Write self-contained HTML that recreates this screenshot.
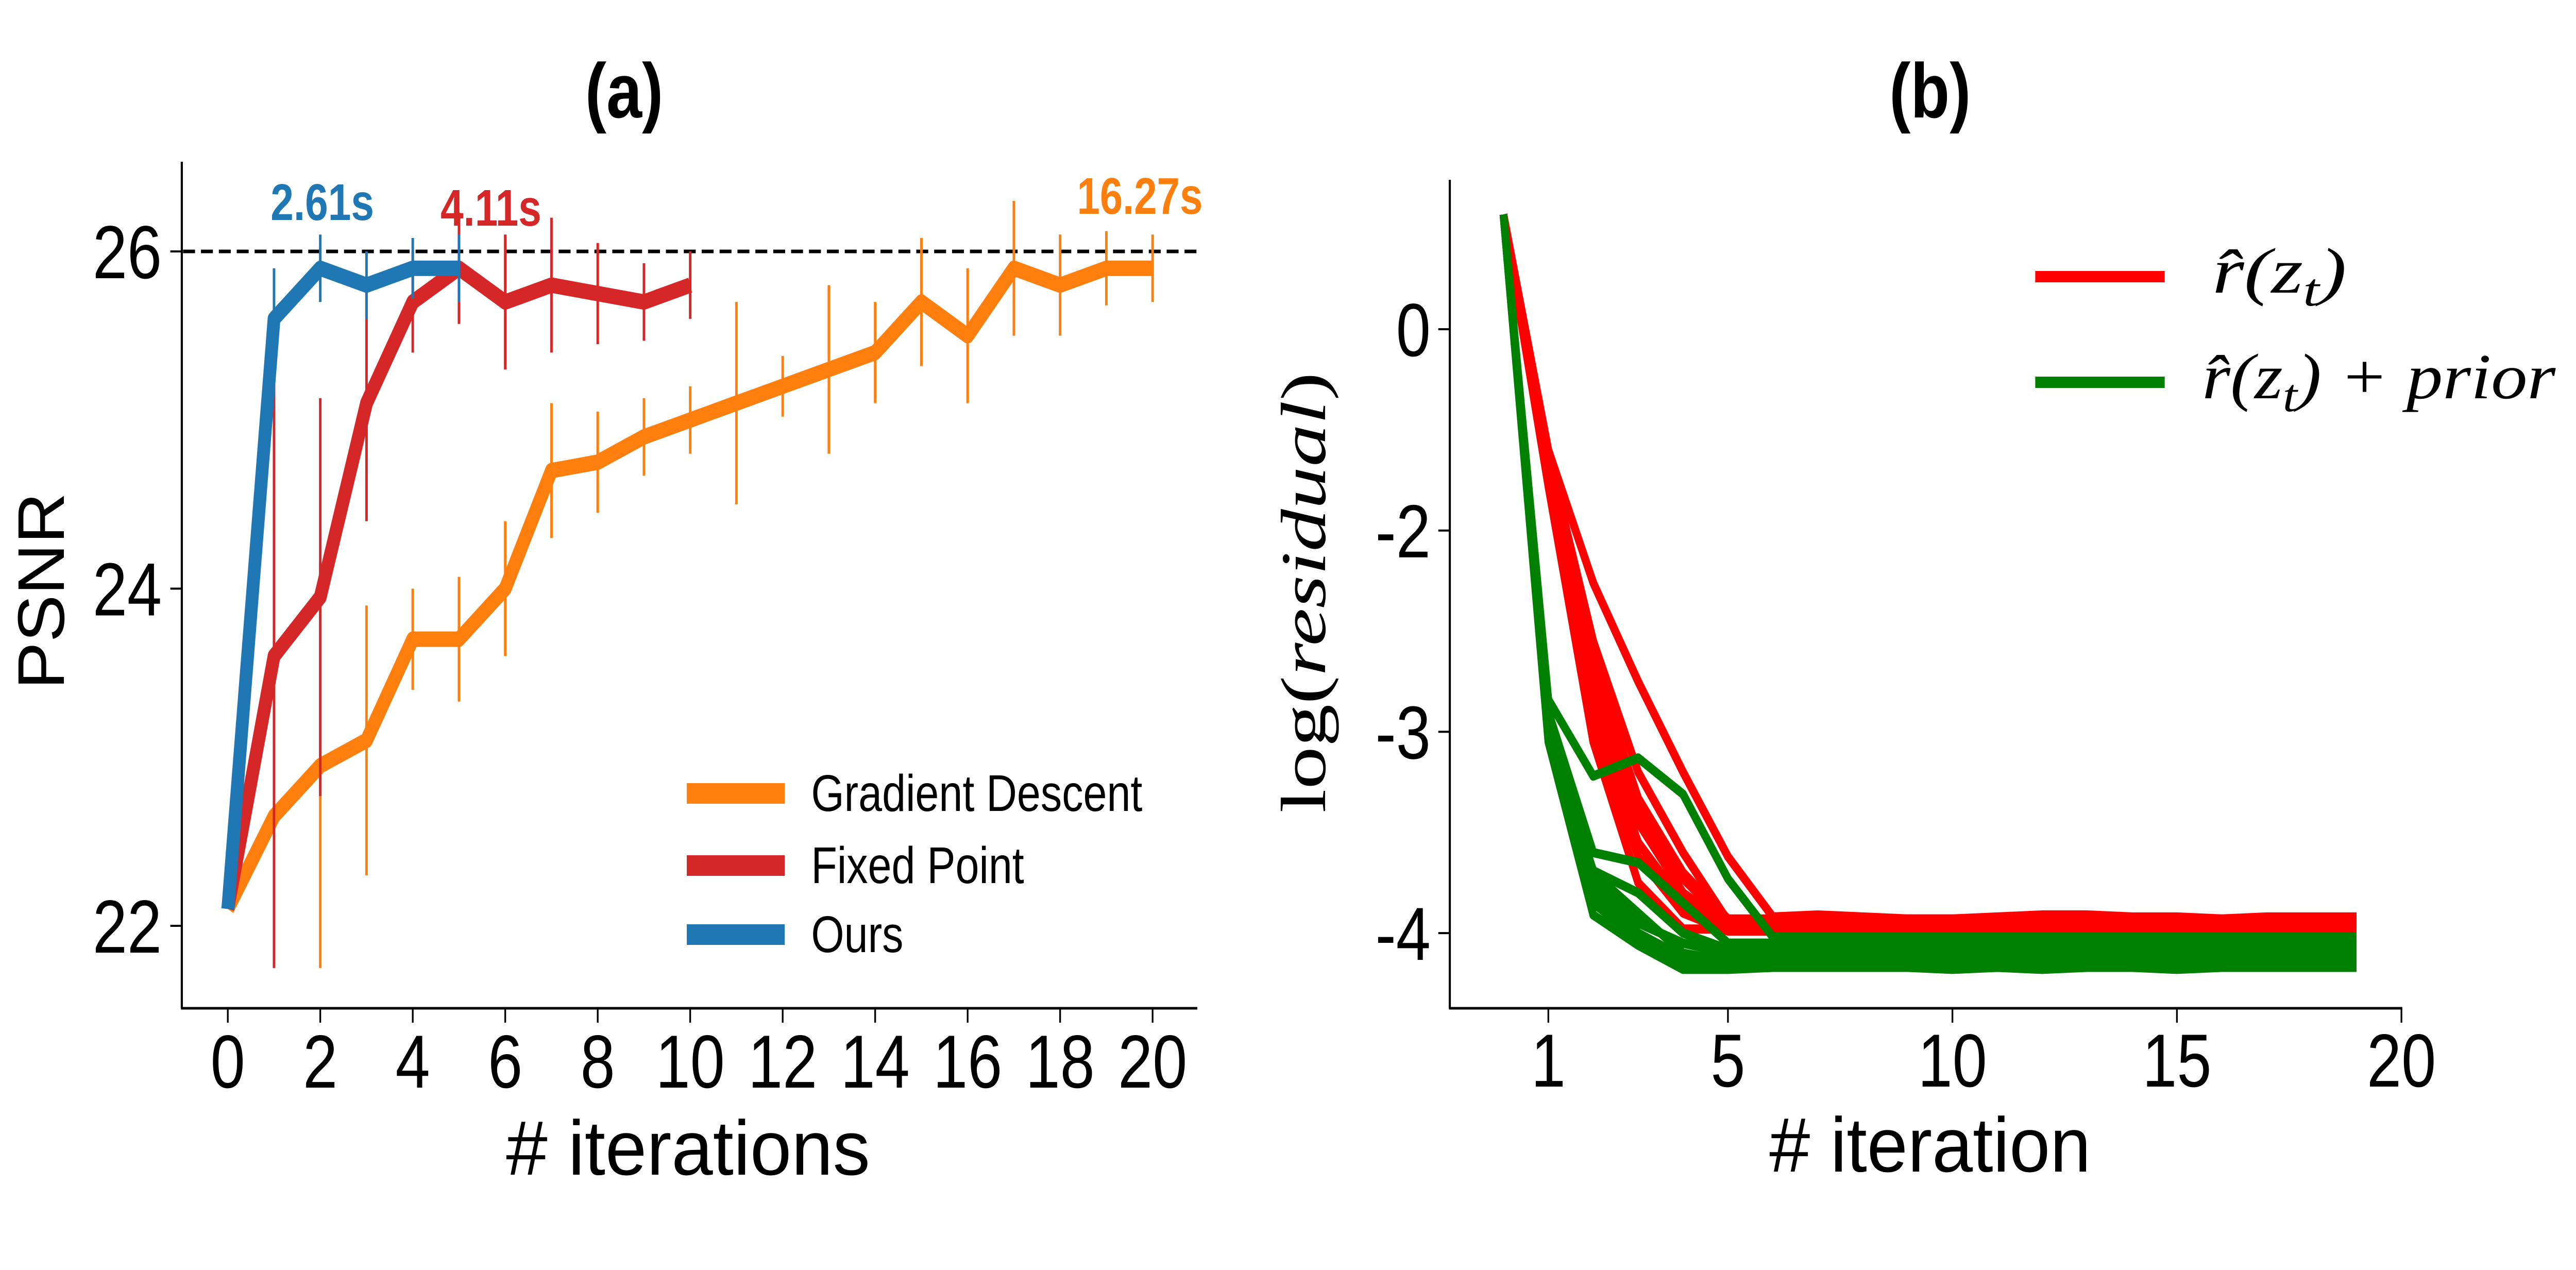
<!DOCTYPE html>
<html><head><meta charset="utf-8"><style>
html,body{margin:0;padding:0;background:#fff;width:100vw;height:100vh;overflow:hidden}
svg{display:block;position:absolute;left:0;top:0;width:100vw;height:100vh}
text{font-family:"Liberation Sans",sans-serif}
</style></head><body>
<svg id="fig" viewBox="0 0 6050 2465" preserveAspectRatio="none" overflow="hidden" xmlns="http://www.w3.org/2000/svg">
<rect width="6050" height="2465" fill="#fff"/>
<text x="1466" y="228" font-size="150" font-weight="bold" text-anchor="middle">(a)</text>
<text x="4533" y="228" font-size="150" font-weight="bold" text-anchor="middle">(b)</text>
<g id="chartA"></g>
<g id="chartB"></g>
<text transform="translate(3112,1150) rotate(-90)" text-anchor="middle" font-size="150" textLength="855" lengthAdjust="spacingAndGlyphs" style="font-family:'Liberation Serif',serif">log(<tspan font-style="italic">residual</tspan>)</text>
<g>
<line x1="4780" y1="537" x2="5084" y2="537" stroke="#ff0000" stroke-width="22"/>
<text x="5196" y="568" font-size="125" textLength="315" lengthAdjust="spacingAndGlyphs" style="font-family:'Liberation Serif',serif" font-style="italic">r̂(z<tspan font-size="90" dy="25">t</tspan><tspan dy="-25">)</tspan></text>
</g>
<g>
<line x1="4780" y1="742" x2="5084" y2="742" stroke="#008000" stroke-width="22"/>
<text x="5172" y="773" font-size="125" textLength="830" lengthAdjust="spacingAndGlyphs" style="font-family:'Liberation Serif',serif" font-style="italic">r̂(z<tspan font-size="90" dy="25">t</tspan><tspan dy="-25">) + prior</tspan></text>
</g>
</svg>
<script>
// ---------- Chart A data ----------
const aTicksX = [0,2,4,6,8,10,12,14,16,18,20];
const aTicksY = [22,24,26];
const gdX = [0,1,2,3,4,5,6,7,8,9,10,11,12,13,14,15,16,17,18,19,20];
const gdY = [22.1,22.65,22.95,23.1,23.7,23.7,24.0,24.7,24.75,24.9,25.0,25.1,25.2,25.3,25.4,25.7,25.5,25.9,25.8,25.9,25.9];
const gdErr = [0,0,1.2,0.8,0.3,0.37,0.4,0.4,0.3,0.23,0.2,0.6,0.18,0.5,0.3,0.38,0.4,0.4,0.3,0.22,0.2];
const fpX = [0,1,2,3,4,5,6,7,8,9,10];
const fpY = [22.1,23.6,23.95,25.1,25.7,25.9,25.7,25.8,25.75,25.7,25.8];
const fpErr = [0,1.85,1.18,0.7,0.3,0.33,0.4,0.4,0.3,0.23,0.2];
const oursX = [0,1,2,3,4,5];
const oursY = [22.1,25.6,25.9,25.8,25.9,25.9];
const oursErr = [0,0.3,0.2,0.2,0.18,0.2];
const refLine = 26;
const annLabels = ["2.61s","4.11s","16.27s"];

// ---------- Chart B data (positions on the displayed axis) ----------
const bTicksX = [1,5,10,15,20];
const bTickPos = [0,-1,-2,-3];
const bTickLabels = ["0","-2","-3","-4"];
const bX = [0,1,2,3,4,5,6,7,8,9,10,11,12,13,14,15,16,17,18,19];
const red1 = [0.57,-0.60,-1.26,-1.75,-2.20,-2.62,-2.92,-2.91,-2.92,-2.93,-2.93,-2.92,-2.91,-2.91,-2.92,-2.92,-2.93,-2.92,-2.92,-2.92];
const red2 = [0.57,-0.62,-1.55,-2.20,-2.60,-2.94,-2.94,-2.94,-2.93,-2.94,-2.95,-2.94,-2.94,-2.93,-2.94,-2.94,-2.94,-2.95,-2.94,-2.94];
const red3 = [0.57,-0.68,-1.75,-2.40,-2.73,-2.95,-2.95,-2.96,-2.95,-2.95,-2.95,-2.96,-2.95,-2.95,-2.95,-2.96,-2.95,-2.95,-2.95,-2.95];
const red4 = [0.57,-0.72,-1.90,-2.55,-2.85,-2.97,-2.97,-2.97,-2.97,-2.98,-2.97,-2.97,-2.97,-2.97,-2.97,-2.97,-2.98,-2.97,-2.97,-2.97];
const red5 = [0.57,-0.78,-2.05,-2.75,-2.98,-2.98,-2.98,-2.98,-2.99,-2.98,-2.98,-2.98,-2.98,-2.99,-2.98,-2.98,-2.98,-2.98,-2.98,-2.98];
const red6 = [0.57,-0.70,-1.85,-2.45,-2.80,-2.96,-2.96,-2.96,-2.96,-2.96,-2.97,-2.96,-2.96,-2.96,-2.96,-2.96,-2.96,-2.96,-2.96,-2.96];
const red7 = [0.57,-0.64,-1.65,-2.33,-2.70,-2.93,-2.93,-2.93,-2.93,-2.93,-2.93,-2.93,-2.92,-2.93,-2.93,-2.93,-2.93,-2.93,-2.93,-2.93];
const red8 = [0.57,-0.74,-1.95,-2.62,-2.90,-2.99,-2.99,-2.99,-2.99,-2.99,-2.99,-2.99,-2.99,-2.99,-2.99,-2.99,-2.99,-2.99,-2.99,-2.99];
const green1 = [0.57,-1.84,-2.22,-2.13,-2.31,-2.73,-3.02,-3.02,-3.02,-3.02,-3.02,-3.02,-3.02,-3.02,-3.02,-3.02,-3.02,-3.02,-3.02,-3.02];
const green2 = [0.57,-1.90,-2.60,-2.65,-2.85,-3.05,-3.05,-3.05,-3.05,-3.05,-3.05,-3.05,-3.05,-3.05,-3.05,-3.05,-3.05,-3.05,-3.05,-3.05];
const green3 = [0.57,-2.00,-2.69,-2.80,-3.00,-3.08,-3.08,-3.08,-3.08,-3.08,-3.08,-3.08,-3.08,-3.08,-3.08,-3.08,-3.08,-3.08,-3.08,-3.08];
const green4 = [0.57,-2.00,-2.80,-3.00,-3.12,-3.12,-3.12,-3.12,-3.12,-3.12,-3.12,-3.12,-3.12,-3.12,-3.12,-3.12,-3.12,-3.12,-3.12,-3.12];
const green5 = [0.57,-2.05,-2.91,-3.06,-3.18,-3.18,-3.17,-3.17,-3.17,-3.17,-3.18,-3.17,-3.18,-3.17,-3.17,-3.18,-3.17,-3.17,-3.17,-3.17];
const green6 = [0.57,-1.95,-2.70,-2.90,-3.10,-3.14,-3.14,-3.14,-3.14,-3.14,-3.14,-3.14,-3.14,-3.14,-3.14,-3.14,-3.14,-3.14,-3.14,-3.14];
const green7 = [0.57,-2.02,-2.85,-3.03,-3.16,-3.16,-3.16,-3.16,-3.16,-3.16,-3.16,-3.16,-3.16,-3.16,-3.16,-3.16,-3.16,-3.16,-3.16,-3.16];
const green8 = [0.57,-1.98,-2.75,-2.95,-3.05,-3.10,-3.10,-3.10,-3.10,-3.10,-3.10,-3.10,-3.10,-3.10,-3.10,-3.10,-3.10,-3.10,-3.10,-3.10];
const redLines = [red1,red2,red3,red4,red5,red6,red7,red8];
const greenLines = [green1,green2,green3,green4,green5,green6,green7,green8];

const NS = "http://www.w3.org/2000/svg";
function mk(tag, attrs, parent){const e=document.createElementNS(NS,tag);for(const k in attrs)e.setAttribute(k,attrs[k]);parent.appendChild(e);return e;}

// ---------- Chart A ----------
const A = document.getElementById('chartA');
const ax = v => 535 + (v-0)*(2707-535)/20;
const ay = v => 488 + (26-v)*(1797-488)/4;
let el;
el = mk('line',{x1:427,y1:314,x2:427,y2:1957,stroke:'#000','stroke-width':5},A);


el = mk('line',{x1:425,y1:1957,x2:2812,y2:1957,stroke:'#000','stroke-width':5},A);


aTicksX.forEach(t=>{
  mk('line',{x1:ax(t),y1:1957,x2:ax(t),y2:1985,stroke:'#000','stroke-width':4},A);
  el = mk('text',{x:ax(t),y:2111,'font-size':146,'text-anchor':'middle'},A);
  el.textContent=t;
  
  
});
aTicksY.forEach(t=>{
  mk('line',{x1:400,y1:ay(t),x2:427,y2:ay(t),stroke:'#000','stroke-width':4},A);
  el = mk('text',{x:380,y:ay(t)+52,'font-size':146,'text-anchor':'end'},A);
  el.textContent=t;
  
  
});
el = mk('line',{x1:430,y1:ay(refLine),x2:2812,y2:ay(refLine),stroke:'#000','stroke-width':7,'stroke-dasharray':'28 14'},A);


function series(xs,ys,errs,color,name){
  const g = mk('g',{},A);
  
  
  xs.forEach((x,i)=>{ if(errs[i]>0){
    const b = mk('line',{x1:ax(x),y1:ay(ys[i]+errs[i]),x2:ax(x),y2:ay(ys[i]-errs[i]),stroke:color,'stroke-width':6},g);
    
    
  }});
  const p = mk('polyline',{points:xs.map((x,i)=>ax(x)+','+ay(ys[i])).join(' '),fill:'none',stroke:color,'stroke-width':30,'stroke-linejoin':'round'},g);
  
  
}
series(gdX,gdY,gdErr,'#ff7f0e','gradient-descent');
series(fpX,fpY,fpErr,'#d62728','fixed-point');
series(oursX,oursY,oursErr,'#1f77b4','ours');
el = mk('text',{x:757,y:427,'font-size':100,'font-weight':'bold','text-anchor':'middle',fill:'#1f77b4',textLength:243,lengthAdjust:'spacingAndGlyphs'},A);
el.textContent=annLabels[0];


el = mk('text',{x:1153,y:438,'font-size':100,'font-weight':'bold','text-anchor':'middle',fill:'#d62728',textLength:237,lengthAdjust:'spacingAndGlyphs'},A);
el.textContent=annLabels[1];


el = mk('text',{x:2677,y:415,'font-size':100,'font-weight':'bold','text-anchor':'middle',fill:'#ff7f0e',textLength:295,lengthAdjust:'spacingAndGlyphs'},A);
el.textContent=annLabels[2];


el = mk('text',{x:1616,y:2280,'font-size':150,'text-anchor':'middle',textLength:855,lengthAdjust:'spacingAndGlyphs'},A);
el.textContent='# iterations';


el = mk('text',{x:0,y:0,'font-size':155,'text-anchor':'middle',transform:'translate(150,1147) rotate(-90)',textLength:382,lengthAdjust:'spacingAndGlyphs'},A);
el.textContent='PSNR';


const legA = [['Gradient Descent','#ff7f0e',1540],['Fixed Point','#d62728',1680],['Ours','#1f77b4',1814]];
legA.forEach(l=>{
  const g = mk('g',{},A);
  
  
  mk('line',{x1:1613,y1:l[2],x2:1843,y2:l[2],stroke:l[1],'stroke-width':40},g);
  const t = mk('text',{x:1905,y:l[2]+34,'font-size':100},g);
  t.textContent=l[0];
});

// ---------- Chart B ----------
const B = document.getElementById('chartB');
const bx = v => 3531 + v*(5640-3531)/20;
const by = p => 639 - p*390.7;
el = mk('line',{x1:3405,y1:349,x2:3405,y2:1957,stroke:'#000','stroke-width':5},B);


el = mk('line',{x1:3403,y1:1957,x2:5642,y2:1957,stroke:'#000','stroke-width':5},B);


bTicksX.forEach(t=>{
  mk('line',{x1:bx(t),y1:1957,x2:bx(t),y2:1985,stroke:'#000','stroke-width':4},B);
  el = mk('text',{x:bx(t),y:2109,'font-size':146,'text-anchor':'middle'},B);
  el.textContent=t;
  
  
});
bTickPos.forEach((p,i)=>{
  mk('line',{x1:3378,y1:by(p),x2:3405,y2:by(p),stroke:'#000','stroke-width':4},B);
  el = mk('text',{x:3360,y:by(p)+52,'font-size':146,'text-anchor':'end'},B);
  el.textContent=bTickLabels[i];
  
  
});
redLines.forEach(ys=>{
  el = mk('polyline',{points:bX.map((x,i)=>bx(x)+','+by(ys[i])).join(' '),fill:'none',stroke:'#ff0000','stroke-width':18,'stroke-linejoin':'round'},B);
  
  
});
greenLines.forEach(ys=>{
  el = mk('polyline',{points:bX.map((x,i)=>bx(x)+','+by(ys[i])).join(' '),fill:'none',stroke:'#008000','stroke-width':18,'stroke-linejoin':'round'},B);
  
  
});
el = mk('text',{x:4533,y:2274,'font-size':150,'text-anchor':'middle',textLength:755,lengthAdjust:'spacingAndGlyphs'},B);
el.textContent='# iteration';


</script>
</body></html>
